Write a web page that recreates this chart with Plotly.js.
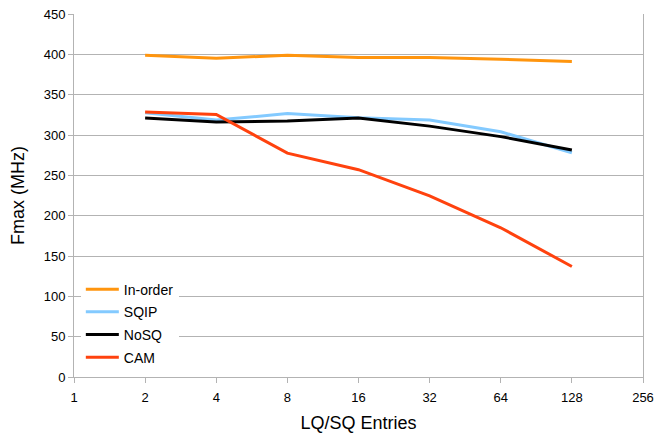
<!DOCTYPE html>
<html>
<head>
<meta charset="utf-8">
<script src="https://cdn.plot.ly/plotly-3.0.1.min.js"></script>
<style>html,body{margin:0;padding:0;background:#fff}#chart{width:657px;height:435px}</style>
</head>
<body>
<div id="chart"></div>
<script>
const entries = [2, 4, 8, 16, 32, 64, 128];
const tickVals = [1, 2, 4, 8, 16, 32, 64, 128, 256];
const tickText = ["1", "2", "4", "8", "16", "32", "64", "128", "256"];
const inOrder = [399, 395, 399, 396, 396, 394, 391];
const sqip = [327.5, 318.5, 326.5, 321.5, 318.5, 304, 278];
const nosq = [321, 316, 317.5, 321, 311, 298, 281.5];
const cam = [328.5, 325.5, 277.5, 257, 224.5, 185, 137];

const names = ["In-order", "SQIP", "NoSQ", "CAM"];
const series = [inOrder, sqip, nosq, cam];
const colors = ["#ff950e", "#83caff", "#000000", "#ff420e"];

const traces = series.map((ys, i) => ({
  x: entries, y: ys, name: names[i], type: "scatter", mode: "lines",
  legendgroup: "g" + i,
  line: {color: colors[i], width: 3}
}));

const layout = {
  width: 657, height: 435,
  margin: {l: 74, r: 14, t: 14, b: 58},
  paper_bgcolor: "#fff", plot_bgcolor: "#fff",
  font: {family: "Liberation Sans, Arial, sans-serif", size: 13, color: "#000"},
  showlegend: true,
  legend: {x: 0.012, y: 0.285, xanchor: "left", yanchor: "top", bgcolor: "#fff",
           font: {size: 14}, traceorder: "grouped", tracegroupgap: 1.5, itemwidth: 33},
  xaxis: {
    type: "log", range: [0, Math.log10(256)],
    tickvals: tickVals, ticktext: tickText,
    showgrid: false, zeroline: false,
    showline: true, linecolor: "#b3b3b3", linewidth: 1,
    ticks: "outside", ticklen: 5, tickcolor: "#b3b3b3", ticklabelstandoff: 3,
    title: {text: "LQ/SQ Entries", font: {size: 18}, standoff: 12}
  },
  yaxis: {
    range: [0, 450], tickvals: [0,50,100,150,200,250,300,350,400,450],
    showgrid: true, gridcolor: "#b3b3b3", gridwidth: 1, zeroline: false,
    showline: true, linecolor: "#b3b3b3", linewidth: 1, mirror: true,
    ticks: "outside", ticklen: 5, tickcolor: "#b3b3b3",
    title: {text: "Fmax (MHz)", font: {size: 18}, standoff: 14}
  }
};

Plotly.newPlot("chart", traces, layout, {displayModeBar: false, staticPlot: true});
</script>
</body>
</html>
